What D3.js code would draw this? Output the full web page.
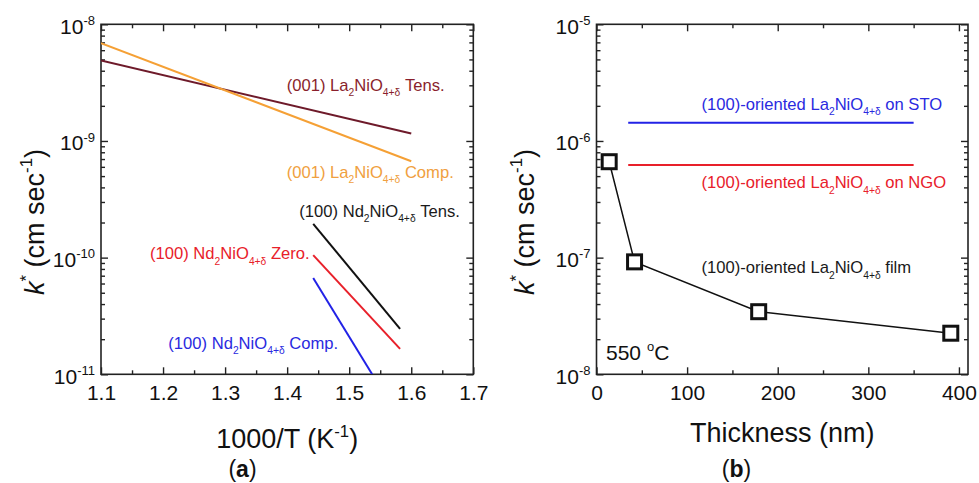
<!DOCTYPE html>
<html><head><meta charset="utf-8">
<script src="https://cdn.jsdelivr.net/npm/d3@7"></script>
<style>
body{margin:0;background:#fff}
svg{display:block}
text{font-family:"Liberation Sans",Arial,Helvetica,sans-serif}
</style>
</head><body>
<svg id="chart" width="979" height="483"></svg>
<script>
// ---------- data : panel (a) ----------
const invTTicks = [1.1, 1.2, 1.3, 1.4, 1.5, 1.6, 1.7];
const kTicksA = [1e-11, 1e-10, 1e-9, 1e-8];
const kTickExpA = ["-11", "-10", "-9", "-8"];

const laTensX = [1.1, 1.6];     const laTensK = [4.9e-9, 1.16e-9];
const laCompX = [1.1, 1.6];     const laCompK = [6.9e-9, 6.7e-10];
const ndTensX = [1.442, 1.582]; const ndTensK = [1.95e-10, 2.45e-11];
const ndZeroX = [1.442, 1.582]; const ndZeroK = [1.05e-10, 1.65e-11];
const ndCompX = [1.442, 1.537]; const ndCompK = [6.7e-11, 1.0e-11];

// ---------- data : panel (b) ----------
const thickTicks = [0, 100, 200, 300, 400];
const kTicksB = [1e-8, 1e-7, 1e-6, 1e-5];
const kTickExpB = ["-8", "-7", "-6", "-5"];

const filmThickness = [14, 42, 179, 391];
const filmK = [6.64e-7, 9.2e-8, 3.44e-8, 2.25e-8];
const stoX = [35, 350]; const stoK = [1.435e-6, 1.435e-6];
const ngoX = [35, 350]; const ngoK = [6.22e-7, 6.22e-7];

// ---------- labels ----------
const labelsA = [
  {parts:[["(001) La"],["2","sub"],["NiO"],["4+δ","sub"],[" Tens."]], x:1.3993, k:2.70e-9, color:"#8a1f2c"},
  {parts:[["(001) La"],["2","sub"],["NiO"],["4+δ","sub"],[" Comp."]], x:1.3993, k:4.82e-10, color:"#f0a040"},
  {parts:[["(100) Nd"],["2","sub"],["NiO"],["4+δ","sub"],[" Tens."]], x:1.4196, k:2.23e-10, color:"#1a1a1a"},
  {parts:[["(100) Nd"],["2","sub"],["NiO"],["4+δ","sub"],[" Zero."]], x:1.179, k:9.68e-11, color:"#e8202a"},
  {parts:[["(100) Nd"],["2","sub"],["NiO"],["4+δ","sub"],[" Comp."]], x:1.2085, k:1.66e-11, color:"#2a2ae0"}
];
const labelsB = [
  {parts:[["(100)-oriented La"],["2","sub"],["NiO"],["4+δ","sub"],[" on STO"]], x:116, k:1.84e-6, color:"#2a2ae0"},
  {parts:[["(100)-oriented La"],["2","sub"],["NiO"],["4+δ","sub"],[" on NGO"]], x:116, k:3.92e-7, color:"#e8202a"},
  {parts:[["(100)-oriented La"],["2","sub"],["NiO"],["4+δ","sub"],[" film"]], x:116, k:7.34e-8, color:"#1a1a1a"}
];

const svg = d3.select("#chart");
const FS_TICK = 21, FS_TITLE = 27, FS_LAB = 16.6;

function rich(textSel, parts, size){
  let cur = 0;
  parts.forEach(p => {
    const kind = p[1];
    const shift = kind === "sub" ? size*0.32 : kind === "sup" ? -size*0.42 : 0;
    const ts = textSel.append("tspan").text(p[0]);
    if (kind === "sub" || kind === "sup") ts.attr("font-size", (size*0.62).toFixed(2));
    if (kind === "ital") ts.attr("font-style", "italic");
    if (shift - cur !== 0) ts.attr("dy", (shift - cur).toFixed(2));
    cur = shift;
  });
}

function panel(cfg){
  const g = svg.append("g");
  const x = cfg.x, y = cfg.y;
  const [xa, xb] = x.range(), [yb, ya] = y.range();

  const clipId = "clip" + cfg.id;
  svg.append("clipPath").attr("id", clipId)
    .append("rect").attr("x", xa).attr("y", ya).attr("width", xb - xa).attr("height", yb - ya);

  const minorY = [];
  cfg.yTicks.slice(0, -1).forEach(d => { for (let m = 2; m <= 9; m++) minorY.push(d*m); });

  const tickStyle = s => s.call(gg => gg.select(".domain").remove())
    .call(gg => gg.selectAll("line").attr("stroke", "#222").attr("stroke-width", 1.4));

  g.append("g").attr("transform", `translate(0,${yb})`)
    .call(d3.axisBottom(x).tickValues(cfg.xTicks).tickSize(-7).tickPadding(10.8).tickFormat(cfg.xFmt))
    .call(tickStyle)
    .call(gg => gg.selectAll("text").attr("font-size", FS_TICK).attr("fill", "#111")
      .attr("font-family", '"Liberation Sans",Arial,sans-serif'));
  g.append("g").attr("transform", `translate(0,${yb})`)
    .call(d3.axisBottom(x).tickValues(cfg.xMinor).tickSize(-4).tickFormat("")).call(tickStyle);
  g.append("g").attr("transform", `translate(0,${ya})`)
    .call(d3.axisTop(x).tickValues(cfg.xTicks).tickSize(-7).tickFormat("")).call(tickStyle);
  g.append("g").attr("transform", `translate(0,${ya})`)
    .call(d3.axisTop(x).tickValues(cfg.xMinor).tickSize(-4).tickFormat("")).call(tickStyle);

  g.append("g").attr("transform", `translate(${xa},0)`)
    .call(d3.axisLeft(y).tickValues(cfg.yTicks).tickSize(-7).tickFormat("")).call(tickStyle);
  g.append("g").attr("transform", `translate(${xa},0)`)
    .call(d3.axisLeft(y).tickValues(minorY).tickSize(-4).tickFormat("")).call(tickStyle);
  g.append("g").attr("transform", `translate(${xb},0)`)
    .call(d3.axisRight(y).tickValues(cfg.yTicks).tickSize(-7).tickFormat("")).call(tickStyle);
  g.append("g").attr("transform", `translate(${xb},0)`)
    .call(d3.axisRight(y).tickValues(minorY).tickSize(-4).tickFormat("")).call(tickStyle);

  cfg.yTicks.forEach((v, i) => {
    const t = g.append("text").attr("x", xa - 6).attr("y", y(v) + 9.5)
      .attr("text-anchor", "end").attr("font-size", FS_TICK).attr("fill", "#111");
    rich(t, [["10"], [cfg.yExp[i], "sup"]], FS_TICK);
  });

  g.append("rect").attr("x", xa).attr("y", ya).attr("width", xb - xa).attr("height", yb - ya)
    .attr("fill", "none").attr("stroke", "#222").attr("stroke-width", 1.6);

  g.append("text").attr("x", (xa + xb)/2).attr("y", cfg.xTitleY).attr("text-anchor", "middle")
    .attr("font-size", FS_TITLE).attr("fill", "#111").call(t => rich(t, cfg.xTitle, FS_TITLE));
  g.append("text").attr("transform", `translate(${cfg.yTitleX},222) rotate(-90)`)
    .attr("text-anchor", "middle").attr("font-size", FS_TITLE).attr("fill", "#111")
    .call(t => rich(t, [["k","ital"], ["*","sup"], [" (cm sec"], ["-1","sup"], [")"]], FS_TITLE));

  const pl = g.append("text").attr("x", cfg.letterX).attr("y", 477).attr("text-anchor", "middle")
    .attr("font-size", 23).attr("font-family", '"Liberation Serif","Times New Roman",serif').attr("fill", "#111");
  pl.append("tspan").text("(");
  pl.append("tspan").attr("font-weight", "bold").text(cfg.letter);
  pl.append("tspan").text(")");

  cfg.labels.forEach(l => {
    const t = g.append("text").attr("x", x(l.x)).attr("y", y(l.k))
      .attr("font-size", FS_LAB).attr("fill", l.color);
    rich(t, l.parts, FS_LAB);
  });

  return {g: g.append("g").attr("clip-path", `url(#${clipId})`), x, y};
}

// ---------- panel (a) ----------
const xA = d3.scaleLinear().domain([1.1, 1.7]).range([101, 473.3]);
const yA = d3.scaleLog().domain([1e-11, 1e-8]).range([374.3, 24.3]);
const pA = panel({
  id: "a", x: xA, y: yA, xTicks: invTTicks,
  xMinor: invTTicks.slice(0, -1).map(d => d + 0.05),
  xFmt: d3.format(".1f"), yTicks: kTicksA, yExp: kTickExpA,
  xTitle: [["1000/T (K"], ["-1","sup"], [")"]], xTitleY: 448, yTitleX: 43.5,
  letter: "a", letterX: 242.5, labels: labelsA
});

const lineA = d3.line().x(d => xA(d[0])).y(d => yA(d[1]));
[
  [laTensX, laTensK, "#6e1a2a"],
  [laCompX, laCompK, "#f5a035"],
  [ndTensX, ndTensK, "#111111"],
  [ndZeroX, ndZeroK, "#e8202a"],
  [ndCompX, ndCompK, "#2222e6"]
].forEach(([xs, ks, c]) => {
  pA.g.append("path").datum(d3.zip(xs, ks)).attr("d", lineA)
    .attr("fill", "none").attr("stroke", c).attr("stroke-width", 2);
});

// ---------- panel (b) ----------
const xB = d3.scaleLinear().domain([0, 410]).range([596.5, 968]);
const yB = d3.scaleLog().domain([1e-8, 1e-5]).range([374.3, 24.3]);
const pB = panel({
  id: "b", x: xB, y: yB, xTicks: thickTicks,
  xMinor: thickTicks.map(d => d + 50).filter(d => d <= 410),
  xFmt: d3.format("d"), yTicks: kTicksB, yExp: kTickExpB,
  xTitle: [["Thickness (nm)"]], xTitleY: 441.5, yTitleX: 533.5,
  letter: "b", letterX: 736.5, labels: labelsB
});

const lineB = d3.line().x(d => xB(d[0])).y(d => yB(d[1]));
pB.g.append("path").datum(d3.zip(stoX, stoK)).attr("d", lineB)
  .attr("fill", "none").attr("stroke", "#2222e6").attr("stroke-width", 2);
pB.g.append("path").datum(d3.zip(ngoX, ngoK)).attr("d", lineB)
  .attr("fill", "none").attr("stroke", "#e8202a").attr("stroke-width", 2);
const film = d3.zip(filmThickness, filmK);
pB.g.append("path").datum(film).attr("d", lineB)
  .attr("fill", "none").attr("stroke", "#111").attr("stroke-width", 1.5);
svg.append("g").selectAll("rect").data(film).join("rect")
  .attr("x", d => xB(d[0]) - 7).attr("y", d => yB(d[1]) - 7)
  .attr("width", 14).attr("height", 14)
  .attr("fill", "#fff").attr("stroke", "#111").attr("stroke-width", 3);

const note = svg.append("text").attr("x", 606).attr("y", 360).attr("font-size", 21).attr("fill", "#111");
rich(note, [["550 "], ["o","sup"], ["C"]], 21);
</script>
</body></html>
